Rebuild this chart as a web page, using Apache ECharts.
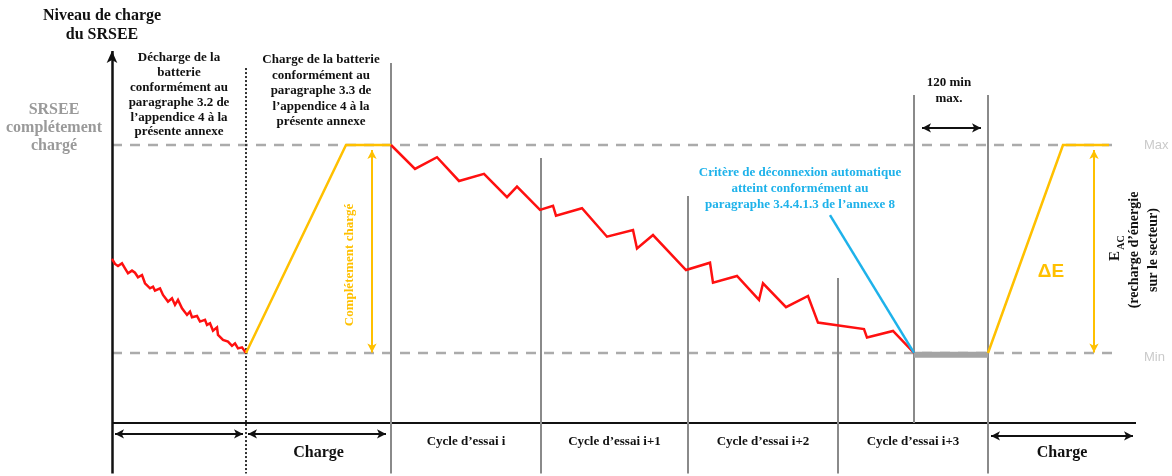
<!DOCTYPE html>
<html>
<head>
<meta charset="utf-8">
<script src="https://cdn.jsdelivr.net/npm/echarts@6/dist/echarts.min.js"></script>
<style>
  html, body { margin: 0; padding: 0; background: #ffffff; }
  #chart { width: 1172px; height: 476px; }
</style>
</head>
<body>
<div id="chart"></div>
<script>
// Niveau de charge du SRSEE : 0 = Min, 100 = Max. Abscisse : temps schématique.
const LEVEL_MIN = 0;
const LEVEL_MAX = 100;
const AXIS_LEVEL = -33.65;      // position de l'axe du temps
const FLOOR_LEVEL = -58;        // bas du diagramme

// Décharge initiale (paragraphe 3.2)
const initialDischarge = [
  [0, 45.2], [0.3, 42.8], [0.6, 41.8], [1.0, 43.1], [1.3, 40.7], [1.6, 38.3],
  [2.0, 39.6], [2.3, 38.6], [2.6, 36.4], [3.0, 37.5], [3.3, 33.5], [3.8, 31.1],
  [4.1, 31.9], [4.3, 30.0], [4.8, 31.1], [5.1, 27.9], [5.6, 24.7], [6.0, 26.3],
  [6.3, 23.1], [6.6, 25.5], [7.0, 21.5], [7.5, 18.3], [7.8, 19.9], [8.0, 17.2],
  [8.5, 17.8], [8.8, 15.1], [9.3, 15.9], [9.5, 13.5], [9.8, 14.3], [10.1, 10.7],
  [10.5, 12.3], [10.6, 8.7], [11.1, 6.3], [11.6, 5.5], [12.0, 3.4], [12.3, 4.6],
  [12.6, 2.2], [13.0, 2.7], [13.4, 0]
];

// Charge complète (paragraphe 3.3)
const firstCharge = [[13.4, 0], [23.4, 100], [27.9, 100]];

// Cycles d'essai successifs jusqu'au critère de déconnexion
const testCycles = [
  [27.9, 100], [30.3, 88.5], [32.5, 94.1], [34.7, 82.7], [37.2, 86.1],
  [39.5, 74.9], [40.5, 80.0], [42.8, 68.8], [44.1, 70.8], [44.4, 66.0],
  [47.0, 69.6], [49.5, 55.9], [52.1, 59.1], [52.5, 50.2], [54.1, 56.7],
  [57.4, 39.9], [59.8, 43.4], [60.1, 33.8], [62.5, 37.0], [64.7, 25.5],
  [65.1, 33.5], [67.4, 22.0], [69.6, 27.4], [70.6, 14.6], [75.2, 11.5],
  [75.5, 7.4], [78.1, 10.6], [80.2, 0]
];

// Recharge finale sur le secteur
const lastCharge = [[87.6, 0], [95.1, 100], [99.7, 100]];

// Indicateur du critère de déconnexion automatique
const cutoffPointer = [[71.8, 66.3], [80.2, 0]];

// Attente avant recharge (120 min max.)
const soakPeriod = [[80.2, -0.9], [87.6, -0.9]];

// Limites des phases : abscisse, haut, bas
const phaseBoundaries = [
  [27.9, 139.4, FLOOR_LEVEL],
  [42.9, 93.75, FLOOR_LEVEL],
  [57.6, 75.5, FLOOR_LEVEL],
  [72.6, 36.1, FLOOR_LEVEL],
  [80.2, 124.0, AXIS_LEVEL],
  [87.6, 124.0, FLOOR_LEVEL]
];
const dischargeEnd = [13.4, 137.0, FLOOR_LEVEL];

// Flèches de durée et de niveau : [x1, y1, x2, y2]
const blackArrows = [
  [0.3, -38.9, 13.1, -38.9],
  [13.6, -38.9, 27.4, -38.9],
  [87.9, -39.9, 102.1, -39.9],
  [81.0, 108.2, 86.9, 108.2]
];
const yellowArrows = [
  [26.0, 97.6, 26.0, 0.2],
  [98.2, 97.6, 98.2, 0.2]
];

const cycleLabels = ['Cycle d’essai i', 'Cycle d’essai i+1', 'Cycle d’essai i+2', 'Cycle d’essai i+3'];
const levelLabels = ['Max', 'Min'];

const SERIF = '"Liberation Serif", "Times New Roman", serif';
const SANS = '"Liberation Sans", Arial, sans-serif';
const RED = '#ff1010';
const YELLOW = '#ffc000';
const BLUE = '#1eb2ea';
const GRID_GRAY = '#8a8a8a';

const chart = echarts.init(document.getElementById('chart'), null, { renderer: 'canvas' });

function seg(name, data, color, width, type, z) {
  return {
    name: name, type: 'line', data: data, symbol: 'none', silent: true,
    animation: false, z: z || 3,
    lineStyle: { color: color, width: width, type: type || 'solid', cap: 'butt', join: 'miter' }
  };
}

function arrowLines(list, color, width, size) {
  return list.map(function (a) {
    return [
      { coord: [a[0], a[1]], symbol: 'arrow', symbolSize: size },
      { coord: [a[2], a[3]], symbol: 'arrow', symbolSize: size,
        lineStyle: { color: color, width: width, type: 'solid' } }
    ];
  });
}

const series = [];

// Axe du temps, avec l'axe vertical fléché et les flèches en markLine
series.push(Object.assign(seg('axe', [[0, AXIS_LEVEL], [102.4, AXIS_LEVEL]], '#111', 2), {
  markLine: {
    silent: true, animation: false, label: { show: false },
    lineStyle: { color: '#111', width: 2, type: 'solid' },
    data: [
      [ { coord: [0, FLOOR_LEVEL], symbol: 'none' },
        { coord: [0, 145.2], symbol: 'arrow', symbolSize: [8, 12],
          lineStyle: { color: '#111', width: 2.5, type: 'solid' } } ]
    ].concat(arrowLines(blackArrows, '#111', 2, [7, 9]))
  }
}));

// Niveaux Max / Min
series.push(seg('max', [[0, LEVEL_MAX], [100.8, LEVEL_MAX]], '#ababab', 2.5, [10, 8], 2));
series.push(seg('min', [[0, LEVEL_MIN], [100.8, LEVEL_MIN]], '#ababab', 2.5, [10, 8], 2));

// Limites des phases
phaseBoundaries.forEach(function (b, i) {
  series.push(seg('limite' + i, [[b[0], b[1]], [b[0], b[2]]], GRID_GRAY, 2));
});
series.push(seg('fin décharge', [[dischargeEnd[0], dischargeEnd[1]], [dischargeEnd[0], dischargeEnd[2]]], '#333', 2, [2, 2]));

// Courbes de niveau de charge
series.push(seg('attente', soakPeriod, '#a4a4a4', 6, 'solid', 4));
series.push(seg('décharge', initialDischarge, RED, 2.5, 'solid', 5));
series.push(seg('charge', firstCharge, YELLOW, 2.5, 'solid', 5));
series.push(seg('cycles', testCycles, RED, 2.5, 'solid', 5));
series.push(seg('critère', cutoffPointer, BLUE, 2.5, 'solid', 5));
series.push(Object.assign(seg('recharge', lastCharge, YELLOW, 2.5, 'solid', 5), {
  markLine: {
    silent: true, animation: false, label: { show: false },
    data: arrowLines(yellowArrows, YELLOW, 2, [7, 9])
  }
}));

chart.setOption({
  backgroundColor: '#ffffff',
  animation: false,
  grid: { left: 112, right: 0, top: 41, bottom: 2.4, containLabel: false },
  xAxis: { type: 'value', min: 0, max: 106, show: false },
  yAxis: { type: 'value', min: FLOOR_LEVEL, max: 150, show: false },
  series: series
});

function px(x, y) { return chart.convertToPixel({ gridIndex: 0 }, [x, y]); }

function text(str, x, y, opts) {
  opts = opts || {};
  return {
    type: 'text', x: x, y: y, rotation: opts.rotation || 0, silent: true, z: 10,
    style: {
      text: str, fill: opts.color || '#111',
      font: opts.font || ('bold 13px ' + SERIF),
      textAlign: opts.align || 'center', align: opts.align || 'center',
      textVerticalAlign: 'middle', verticalAlign: 'middle',
      lineHeight: opts.lineHeight || 15
    }
  };
}

const g = [];
g.push(text('Niveau de charge\ndu SRSEE', 102, 25.5, { font: 'bold 16px ' + SERIF, lineHeight: 19 }));
g.push(text('SRSEE\ncomplétement\nchargé', 54, 128, { font: 'bold 16px ' + SERIF, lineHeight: 18, color: '#9a9a9a' }));
g.push(text('Décharge de la\nbatterie\nconformément au\nparagraphe 3.2 de\nl’appendice 4 à la\nprésente annexe', 179, 95, { lineHeight: 14.8 }));
g.push(text('Charge de la batterie\nconformément au\nparagraphe 3.3 de\nl’appendice 4 à la\nprésente annexe', 321, 91, { lineHeight: 15.5 }));
g.push(text('Critère de déconnexion automatique\natteint conformément au\nparagraphe 3.4.4.1.3 de l’annexe 8', 800, 189, { lineHeight: 16, color: BLUE }));
g.push(text('120 min\nmax.', 949, 91, { lineHeight: 16 }));

// Étiquettes de niveau
const maxPos = px(100.8, LEVEL_MAX), minPos = px(100.8, LEVEL_MIN);
g.push(text(levelLabels[0], 1144, maxPos[1], { font: '13px ' + SANS, color: '#cacaca', align: 'left' }));
g.push(text(levelLabels[1], 1144, minPos[1] + 4, { font: '13px ' + SANS, color: '#cacaca', align: 'left' }));

// Annotations verticales
const arrowA = px(yellowArrows[0][0], 50);
g.push(text('Complétement chargé', arrowA[0] - 22, 265, { rotation: Math.PI / 2, color: YELLOW }));
g.push(text('ΔE', 1051, 272, { font: 'bold 19px ' + SANS, color: YELLOW }));
g.push(text('E', 1115, 256, { rotation: Math.PI / 2, font: 'bold 15px ' + SERIF }));
g.push(text('AC', 1121, 242.5, { rotation: Math.PI / 2, font: 'bold 10px ' + SERIF }));
g.push(text('(recharge d’énergie', 1134, 250, { rotation: Math.PI / 2, font: 'bold 14px ' + SERIF }));
g.push(text('sur le secteur)', 1153, 250, { rotation: Math.PI / 2, font: 'bold 14px ' + SERIF }));

// Libellés des phases sous l'axe du temps
const bx = [phaseBoundaries[0][0], phaseBoundaries[1][0], phaseBoundaries[2][0], phaseBoundaries[3][0], phaseBoundaries[5][0]];
cycleLabels.forEach(function (lab, i) {
  const a = px(bx[i], 0)[0], b = px(bx[i + 1], 0)[0];
  g.push(text(lab, (a + b) / 2, 442));
});
g.push(text('Charge', (px(dischargeEnd[0], 0)[0] + px(bx[0], 0)[0]) / 2, 453, { font: 'bold 16px ' + SERIF }));
g.push(text('Charge', (px(bx[4], 0)[0] + px(102.4, 0)[0]) / 2, 453, { font: 'bold 16px ' + SERIF }));

chart.setOption({ graphic: { elements: g } });
</script>
</body>
</html>
